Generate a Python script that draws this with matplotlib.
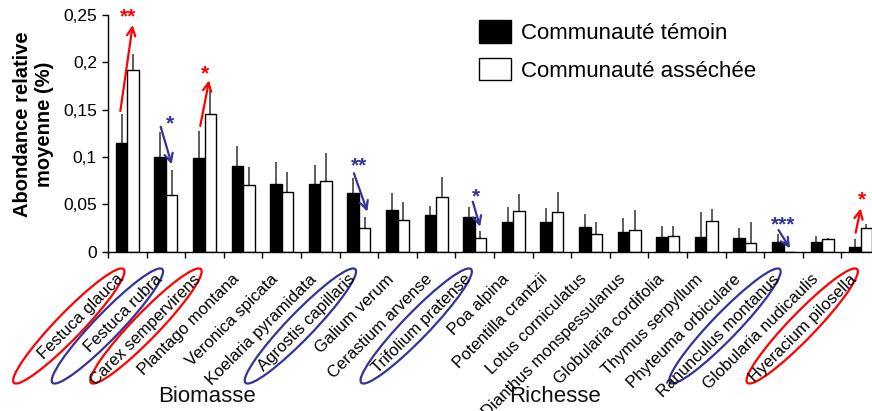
import numpy as np
import matplotlib
matplotlib.use("Agg")
from matplotlib import pyplot as plt
from matplotlib.patches import Ellipse
from matplotlib.ticker import FuncFormatter

plt.rcParams["font.family"] = ["Liberation Sans", "DejaVu Sans"]

species = ["Festuca glauca", "Festuca rubra", "Carex sempervirens", "Plantago montana",
           "Veronica spicata", "Koelaria pyramidata", "Agrostis capillaris", "Galium verum",
           "Cerastium arvense", "Trifolium pratense", "Poa alpina", "Potentilla crantzii",
           "Lotus corniculatus", "Dianthus monspessulanus", "Globularia cordifolia",
           "Thymus serpyllum", "Phyteuma orbiculare", "Ranunculus montanus",
           "Globularia nudicaulis", "Hyeracium pilosella"]

# mean relative abundance and top of the error bar
temoin = [0.115, 0.100, 0.099, 0.0905, 0.0715, 0.0715, 0.062, 0.0437, 0.0384, 0.0363,
          0.031, 0.031, 0.0264, 0.0205, 0.0158, 0.0152, 0.0145, 0.0099, 0.0099, 0.0053]
temoin_top = [0.145, 0.126, 0.127, 0.112, 0.0947, 0.0913, 0.078, 0.0617, 0.048, 0.0472,
              0.0469, 0.0458, 0.0395, 0.0353, 0.0268, 0.0416, 0.0247, 0.0184, 0.0166, 0.0137]
seche = [0.192, 0.0596, 0.145, 0.070, 0.0634, 0.075, 0.0253, 0.0338, 0.0578, 0.0141,
         0.0427, 0.0416, 0.0184, 0.0226, 0.0163, 0.0324, 0.0089, 0.0, 0.0131, 0.0253]
seche_top = [0.2085, 0.0866, 0.171, 0.0898, 0.084, 0.1046, 0.0363, 0.0528, 0.079, 0.0222,
             0.061, 0.063, 0.031, 0.044, 0.0271, 0.0448, 0.031, 0.0, 0.0145, 0.0296]

# significance arrows: (start x, start y, end x, end y, stars, star x, star y, increase?)
arrows = [
    (-0.18, 0.1486, 0.14, 0.2394, "**", 0.02, 0.254, True),
    (0.865, 0.132, 1.15, 0.0923, "*", 1.106, 0.141, False),
    (1.89, 0.1328, 2.12, 0.181, "*", 2.01, 0.194, True),
    (5.87, 0.0828, 6.22, 0.0423, "**", 6.0, 0.0969, False),
    (8.95, 0.0528, 9.14, 0.0264, "*", 9.04, 0.0634, False),
    (16.87, 0.0229, 17.17, 0.0036, "***", 17.0, 0.0345, False),
    (18.87, 0.0201, 19.0, 0.0458, "*", 19.03, 0.061, True),
]
# circled labels: (index, increase?)
circled = [(0, True), (1, False), (2, True), (6, False), (9, False), (17, False), (19, True)]

RED = "#ff0000"
BLUE = "#333399"

fig = plt.figure(figsize=(8.72, 4.11), dpi=100)
ax = fig.add_axes([108 / 872, 1 - 251.7 / 411, 772 / 872, 236.7 / 411])

x = np.arange(len(species))
w = 0.3
b1 = ax.bar(x - w / 2, temoin, w, color="black", edgecolor="black", linewidth=1,
            label="Communauté témoin", zorder=2)
b2 = ax.bar(x + w / 2, seche, w, color="white", edgecolor="black", linewidth=1,
            label="Communauté asséchée", zorder=2)
up1 = np.array(temoin_top) - np.array(temoin)
up2 = np.array(seche_top) - np.array(seche)
ax.errorbar(x - w / 2, temoin, yerr=[np.zeros_like(up1), up1], fmt="none",
            ecolor="#333333", elinewidth=1.1, capsize=0, zorder=1)
ax.errorbar(x + w / 2, seche, yerr=[np.zeros_like(up2), up2], fmt="none",
            ecolor="#333333", elinewidth=1.1, capsize=0, zorder=1)

ax.set_xlim(-0.5, len(species) - 0.5)
ax.set_ylim(0, 0.25)
ax.set_yticks(np.arange(0, 0.251, 0.05))
ax.yaxis.set_major_formatter(FuncFormatter(lambda v, p: ("%g" % round(v, 2)).replace(".", ",")))
ax.set_xticks(np.arange(len(species) + 1) - 0.5)
ax.set_xticklabels([])
ax.tick_params(axis="both", direction="out", length=4, width=1, labelsize=12.5, pad=4)
for s in ["top", "right"]:
    ax.spines[s].set_visible(False)
for s in ["left", "bottom"]:
    ax.spines[s].set_linewidth(1)

# rotated species labels
for i, name in enumerate(species):
    ax.annotate(name, xy=(i, 0), xycoords=("data", "axes fraction"),
                xytext=(-4.5, -18), textcoords="offset points",
                rotation=45, ha="right", va="center", rotation_mode="anchor",
                fontsize=12, annotation_clip=False)

for sx, sy, ex, ey, stars, tx, ty, inc in arrows:
    col = RED if inc else BLUE
    ax.annotate("", xy=(ex, ey), xytext=(sx, sy),
                arrowprops=dict(arrowstyle="->", color=col, lw=1.6,
                                shrinkA=0, shrinkB=0, mutation_scale=15),
                annotation_clip=False)
    ax.annotate(stars, xy=(tx, ty), xytext=(0, -4), textcoords="offset points",
                ha="center", va="center", color=col, fontsize=15, fontweight="bold",
                annotation_clip=False)

# ellipses around labels, in inches
for i, inc in circled:
    cx = (127.3 + 38.6 * i - 58.5) / 100
    cy = (411 - 326) / 100
    ax.add_artist(Ellipse((cx, cy), 1.58, 0.26, angle=46, transform=fig.dpi_scale_trans,
                          fill=False, edgecolor=RED if inc else BLUE, linewidth=1.6,
                          clip_on=False))

fig.text(34 / 872, 1 - 124 / 411, "Abondance relative\nmoyenne (%)", rotation=90,
         ha="center", va="center", fontsize=14.5, fontweight="bold", multialignment="center")

fig.text(206.7 / 872, 1 - 396.7 / 411, "Biomasse", ha="center", va="center",
         fontsize=16, color="#111111")
fig.text(555 / 872, 1 - 396.7 / 411, "Richesse", ha="center", va="center",
         fontsize=16, color="#111111")

ax.legend(handles=[b1, b2], loc="upper left", bbox_to_anchor=(478.7 / 872, 1 - 20 / 411),
          bbox_transform=fig.transFigure, frameon=False, fontsize=16, borderpad=0,
          borderaxespad=0, handlelength=1.44, handleheight=1.2, handletextpad=0.45,
          labelspacing=0.62)

fig.savefig("out.png", dpi=100)
